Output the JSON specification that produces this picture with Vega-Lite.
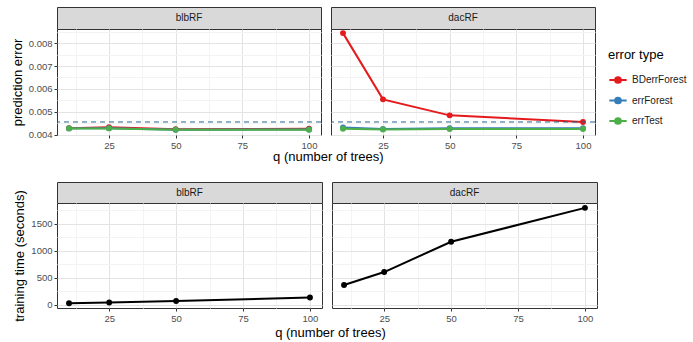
{
  "$schema": "https://vega.github.io/schema/vega-lite/v6.json",
  "padding": {"left": 10, "top": 6, "right": 5, "bottom": 5},
  "background": "white",
  "datasets": {
    "err": [
      {"panel": "blbRF", "q": 10, "type": "BDerrForest", "value": 0.00428},
      {"panel": "blbRF", "q": 25, "type": "BDerrForest", "value": 0.00432},
      {"panel": "blbRF", "q": 50, "type": "BDerrForest", "value": 0.00423},
      {"panel": "blbRF", "q": 100, "type": "BDerrForest", "value": 0.00425},
      {"panel": "blbRF", "q": 10, "type": "errForest", "value": 0.00427},
      {"panel": "blbRF", "q": 25, "type": "errForest", "value": 0.00428},
      {"panel": "blbRF", "q": 50, "type": "errForest", "value": 0.00421},
      {"panel": "blbRF", "q": 100, "type": "errForest", "value": 0.00422},
      {"panel": "blbRF", "q": 10, "type": "errTest", "value": 0.00427},
      {"panel": "blbRF", "q": 25, "type": "errTest", "value": 0.00427},
      {"panel": "blbRF", "q": 50, "type": "errTest", "value": 0.00421},
      {"panel": "blbRF", "q": 100, "type": "errTest", "value": 0.00421},
      {"panel": "dacRF", "q": 10, "type": "BDerrForest", "value": 0.00844},
      {"panel": "dacRF", "q": 25, "type": "BDerrForest", "value": 0.00554},
      {"panel": "dacRF", "q": 50, "type": "BDerrForest", "value": 0.00484},
      {"panel": "dacRF", "q": 100, "type": "BDerrForest", "value": 0.00455},
      {"panel": "dacRF", "q": 10, "type": "errForest", "value": 0.00431},
      {"panel": "dacRF", "q": 25, "type": "errForest", "value": 0.00424},
      {"panel": "dacRF", "q": 50, "type": "errForest", "value": 0.00428},
      {"panel": "dacRF", "q": 100, "type": "errForest", "value": 0.00428},
      {"panel": "dacRF", "q": 10, "type": "errTest", "value": 0.00425},
      {"panel": "dacRF", "q": 25, "type": "errTest", "value": 0.00422},
      {"panel": "dacRF", "q": 50, "type": "errTest", "value": 0.00424},
      {"panel": "dacRF", "q": 100, "type": "errTest", "value": 0.00424}
    ],
    "time": [
      {"panel": "blbRF", "q": 10, "seconds": 31},
      {"panel": "blbRF", "q": 25, "seconds": 44},
      {"panel": "blbRF", "q": 50, "seconds": 74},
      {"panel": "blbRF", "q": 100, "seconds": 136},
      {"panel": "dacRF", "q": 10, "seconds": 369},
      {"panel": "dacRF", "q": 25, "seconds": 608},
      {"panel": "dacRF", "q": 50, "seconds": 1168},
      {"panel": "dacRF", "q": 100, "seconds": 1795}
    ],
    "ref": [{"value": 0.00455}]
  },
  "vconcat": [
    {
      "title": {"text": "q (number of trees)", "orient": "bottom", "anchor": "middle", "fontSize": 13, "fontWeight": "normal", "font": "Liberation Sans", "color": "#000000", "offset": 1, "dx": 25},
      "spacing": 8,
      "hconcat": [
        {
          "spacing": 0, "bounds": "flush",
          "vconcat": [
            {"width": 264, "height": 22, "data": {"values": [{"p": "blbRF"}]}, "view": {"fill": "#d9d9d9", "stroke": "#333333"},
             "mark": {"type": "text", "font": "Liberation Sans", "fontSize": 10, "color": "#1a1a1a"},
             "encoding": {"text": {"field": "p"}}},
            {
              "width": 264, "height": 106,
              "view": {"fill": "#ffffff", "stroke": "#333333"},
              "encoding": {
                "y": {"field": "value", "type": "quantitative", "scale": {"domain": [0.00398, 0.00862], "nice": false, "zero": false},
                      "axis": {"title": "prediction error", "labelOverlap": false, "values": [0.004, 0.0045, 0.005, 0.0055, 0.006, 0.0065, 0.007, 0.0075, 0.008, 0.0085],
                               "labelExpr": "round(datum.value*2000) % 2 === 0 ? format(datum.value, '.3f') : ''",
                               "gridColor": {"condition": {"test": "round(datum.value*2000) % 2 === 0", "value": "#e3e3e3"}, "value": "#f3f3f3"},
                               "tickOpacity": {"condition": {"test": "round(datum.value*2000) % 2 === 0", "value": 1}, "value": 0}}}
              },
              "layer": [
                {"data": {"name": "err"}, "transform": [{"filter": "datum.panel === 'blbRF'"}],
                 "encoding": {
                   "x": {"field": "q", "type": "quantitative", "scale": {"domain": [5.5, 104.5], "nice": false, "zero": false},
                         "axis": {"title": null, "values": [12.5, 25, 37.5, 50, 62.5, 75, 87.5, 100], "labelFlush": false, "labelOverlap": false,
                                  "labelExpr": "datum.value % 25 === 0 ? datum.label : ''",
                                  "gridColor": {"condition": {"test": "datum.value % 25 === 0", "value": "#e3e3e3"}, "value": "#f3f3f3"},
                                  "tickOpacity": {"condition": {"test": "datum.value % 25 === 0", "value": 1}, "value": 0}}},
                   "color": {"field": "type", "type": "nominal", "scale": {"domain": ["BDerrForest", "errForest", "errTest"], "range": ["#e41a1c", "#377eb8", "#4daf4a"]},
                             "legend": {"title": "error type", "orient": "none", "legendX": 551, "legendY": 42}}
                 },
                 "layer": [
                   {"mark": {"type": "line", "strokeWidth": 2}},
                   {"mark": {"type": "point", "filled": true, "size": 35, "opacity": 1}}
                 ]},
                {"data": {"name": "ref"},
                 "mark": {"type": "rule", "strokeDash": [5, 4], "color": "#24628f", "strokeWidth": 1}}
              ]
            }
          ]
        },
        {
          "spacing": 0, "bounds": "flush",
          "vconcat": [
            {"width": 264, "height": 22, "data": {"values": [{"p": "dacRF"}]}, "view": {"fill": "#d9d9d9", "stroke": "#333333"},
             "mark": {"type": "text", "font": "Liberation Sans", "fontSize": 10, "color": "#1a1a1a"},
             "encoding": {"text": {"field": "p"}}},
            {
              "width": 264, "height": 106,
              "view": {"fill": "#ffffff", "stroke": "#333333"},
              "encoding": {
                "y": {"field": "value", "type": "quantitative", "scale": {"domain": [0.00398, 0.00862], "nice": false, "zero": false},
                      "axis": {"title": null, "labels": false, "ticks": false, "values": [0.004, 0.0045, 0.005, 0.0055, 0.006, 0.0065, 0.007, 0.0075, 0.008, 0.0085],
                               "gridColor": {"condition": {"test": "round(datum.value*2000) % 2 === 0", "value": "#e3e3e3"}, "value": "#f3f3f3"}}}
              },
              "layer": [
                {"data": {"name": "err"}, "transform": [{"filter": "datum.panel === 'dacRF'"}],
                 "encoding": {
                   "x": {"field": "q", "type": "quantitative", "scale": {"domain": [5.5, 104.5], "nice": false, "zero": false},
                         "axis": {"title": null, "values": [12.5, 25, 37.5, 50, 62.5, 75, 87.5, 100], "labelFlush": false, "labelOverlap": false,
                                  "labelExpr": "datum.value % 25 === 0 ? datum.label : ''",
                                  "gridColor": {"condition": {"test": "datum.value % 25 === 0", "value": "#e3e3e3"}, "value": "#f3f3f3"},
                                  "tickOpacity": {"condition": {"test": "datum.value % 25 === 0", "value": 1}, "value": 0}}},
                   "color": {"field": "type", "type": "nominal", "scale": {"domain": ["BDerrForest", "errForest", "errTest"], "range": ["#e41a1c", "#377eb8", "#4daf4a"]},
                             "legend": {"title": "error type", "orient": "none", "legendX": 551, "legendY": 42}}
                 },
                 "layer": [
                   {"mark": {"type": "line", "strokeWidth": 2}},
                   {"mark": {"type": "point", "filled": true, "size": 35, "opacity": 1}}
                 ]},
                {"data": {"name": "ref"},
                 "mark": {"type": "rule", "strokeDash": [5, 4], "color": "#24628f", "strokeWidth": 1}}
              ]
            }
          ]
        }
      ]
    },
    {
      "title": {"text": "q (number of trees)", "orient": "bottom", "anchor": "middle", "fontSize": 13, "fontWeight": "normal", "font": "Liberation Sans", "color": "#000000", "offset": 4, "dx": 25},
      "spacing": 8,
      "hconcat": [
        {
          "spacing": 0, "bounds": "flush",
          "vconcat": [
            {"width": 265, "height": 21, "data": {"values": [{"p": "blbRF"}]}, "view": {"fill": "#d9d9d9", "stroke": "#333333"},
             "mark": {"type": "text", "font": "Liberation Sans", "fontSize": 10, "color": "#1a1a1a"},
             "encoding": {"text": {"field": "p"}}},
            {
              "width": 265, "height": 105,
              "view": {"fill": "#ffffff", "stroke": "#333333"},
              "data": {"name": "time"}, "transform": [{"filter": "datum.panel === 'blbRF'"}],
              "encoding": {
                "x": {"field": "q", "type": "quantitative", "scale": {"domain": [5.5, 104.5], "nice": false, "zero": false},
                      "axis": {"title": null, "values": [12.5, 25, 37.5, 50, 62.5, 75, 87.5, 100], "labelFlush": false, "labelOverlap": false,
                               "labelExpr": "datum.value % 25 === 0 ? datum.label : ''",
                               "gridColor": {"condition": {"test": "datum.value % 25 === 0", "value": "#e3e3e3"}, "value": "#f3f3f3"},
                               "tickOpacity": {"condition": {"test": "datum.value % 25 === 0", "value": 1}, "value": 0}}},
                "y": {"field": "seconds", "type": "quantitative", "scale": {"domain": [-57, 1885], "nice": false, "zero": false},
                      "axis": {"title": "training time (seconds)", "labelOverlap": false, "values": [0, 250, 500, 750, 1000, 1250, 1500, 1750],
                               "labelExpr": "datum.value % 500 === 0 ? format(datum.value, 'd') : ''",
                               "gridColor": {"condition": {"test": "datum.value % 500 === 0", "value": "#e3e3e3"}, "value": "#f3f3f3"},
                               "tickOpacity": {"condition": {"test": "datum.value % 500 === 0", "value": 1}, "value": 0}}}
              },
              "layer": [
                {"mark": {"type": "line", "strokeWidth": 2, "color": "#000000"}},
                {"mark": {"type": "point", "filled": true, "size": 35, "opacity": 1, "color": "#000000"}}
              ]
            }
          ]
        },
        {
          "spacing": 0, "bounds": "flush",
          "vconcat": [
            {"width": 265, "height": 21, "data": {"values": [{"p": "dacRF"}]}, "view": {"fill": "#d9d9d9", "stroke": "#333333"},
             "mark": {"type": "text", "font": "Liberation Sans", "fontSize": 10, "color": "#1a1a1a"},
             "encoding": {"text": {"field": "p"}}},
            {
              "width": 265, "height": 105,
              "view": {"fill": "#ffffff", "stroke": "#333333"},
              "data": {"name": "time"}, "transform": [{"filter": "datum.panel === 'dacRF'"}],
              "encoding": {
                "x": {"field": "q", "type": "quantitative", "scale": {"domain": [5.5, 104.5], "nice": false, "zero": false},
                      "axis": {"title": null, "values": [12.5, 25, 37.5, 50, 62.5, 75, 87.5, 100], "labelFlush": false, "labelOverlap": false,
                               "labelExpr": "datum.value % 25 === 0 ? datum.label : ''",
                               "gridColor": {"condition": {"test": "datum.value % 25 === 0", "value": "#e3e3e3"}, "value": "#f3f3f3"},
                               "tickOpacity": {"condition": {"test": "datum.value % 25 === 0", "value": 1}, "value": 0}}},
                "y": {"field": "seconds", "type": "quantitative", "scale": {"domain": [-57, 1885], "nice": false, "zero": false},
                      "axis": {"title": null, "labels": false, "ticks": false, "values": [0, 250, 500, 750, 1000, 1250, 1500, 1750],
                               "gridColor": {"condition": {"test": "datum.value % 500 === 0", "value": "#e3e3e3"}, "value": "#f3f3f3"}}}
              },
              "layer": [
                {"mark": {"type": "line", "strokeWidth": 2, "color": "#000000"}},
                {"mark": {"type": "point", "filled": true, "size": 35, "opacity": 1, "color": "#000000"}}
              ]
            }
          ]
        }
      ]
    }
  ],
  "spacing": 17,
  "resolve": {"scale": {"x": "independent", "y": "independent"}},
  "config": {
    "font": "Liberation Sans",
    "view": {"stroke": "#333333"},
    "axis": {"domain": false, "labelOverlap": false, "labelFont": "Liberation Sans", "labelFontSize": 9.5, "labelColor": "#4d4d4d", "tickColor": "#333333", "tickSize": 3, "labelPadding": 2,
             "titleFont": "Liberation Sans", "titleFontSize": 13, "titleFontWeight": "normal", "titleColor": "#000000", "titlePadding": 4},
    "legend": {"titleFont": "Liberation Sans", "titleFontSize": 13, "titleFontWeight": "normal", "titleColor": "#000000", "labelFont": "Liberation Sans", "labelFontSize": 10, "labelColor": "#1a1a1a",
               "symbolType": "M-1,0L1,0M-0.33,0A0.33,0.33,0,1,1,0.33,0A0.33,0.33,0,1,1,-0.33,0Z", "symbolSize": 300, "symbolStrokeWidth": 2, "rowPadding": 3.5, "titlePadding": 8, "labelOffset": 4}
  }
}
